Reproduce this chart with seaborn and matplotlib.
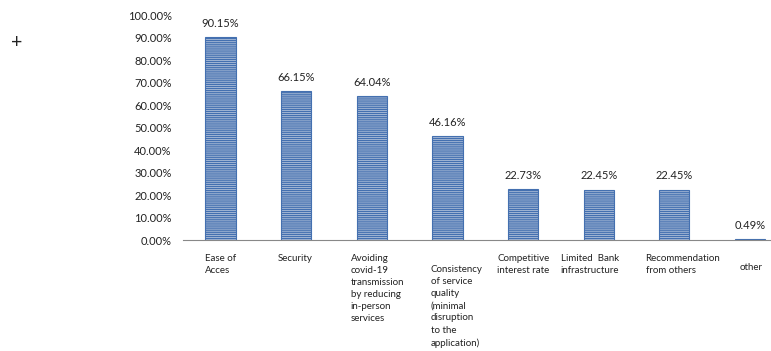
import matplotlib
matplotlib.use("Agg")
from matplotlib import pyplot as plt
from matplotlib.ticker import FuncFormatter
import seaborn as sns
import pandas as pd

categories = ["Ease of\nAcces", "Security",
              "Avoiding\ncovid-19\ntransmission\nby reducing\nin-person\nservices",
              "Consistency\nof service\nquality\n(minimal\ndisruption\nto the\napplication)",
              "Competitive\ninterest rate", "Limited  Bank\ninfrastructure",
              "Recommendation\nfrom others", "other"]
values = [90.15, 66.15, 64.04, 46.16, 22.73, 22.45, 22.45, 0.49]
value_labels = ["90.15%", "66.15%", "64.04%", "46.16%", "22.73%", "22.45%", "22.45%", "0.49%"]

df = pd.DataFrame({"cat": range(len(values)), "val": values})

sns.set_style("white")
plt.rcParams["font.family"] = ["Lato", "DejaVu Sans"]
plt.rcParams["hatch.linewidth"] = 0.9

fig = plt.figure(figsize=(7.71, 3.51), dpi=100)
ax = fig.add_axes([0.237, 0.316, 0.77, 0.641])

sns.barplot(data=df, x="cat", y="val", color="#a8bfe0", width=0.4,
            edgecolor="#4470b0", linewidth=0.8, hatch="--------", ax=ax)

ax.set_ylim(0, 100)
ax.set_yticks(range(0, 101, 10))
ax.yaxis.set_major_formatter(FuncFormatter(lambda v, p: "%.2f%%" % v))
ax.tick_params(axis="y", labelsize=8, length=0, pad=8, colors="#222222")
ax.set_xlim(-0.5, 7.35)
ax.set_xticks([])
ax.set_xlabel("")
ax.set_ylabel("")
for s in ["top", "right", "left"]:
    ax.spines[s].set_visible(False)
ax.spines["bottom"].set_color("#888888")
ax.spines["bottom"].set_linewidth(0.8)

for i, (v, t) in enumerate(zip(values, value_labels)):
    ax.annotate(t, (i, v), xytext=(0, 6), textcoords="offset points",
                ha="center", va="bottom", fontsize=8, color="#222222")

# category labels, left aligned under each bar
dx = [-0.2, -0.25, -0.28, -0.22, -0.34, -0.5, -0.38, -0.14]
dy = [-0.06, -0.06, -0.06, -0.11, -0.06, -0.06, -0.06, -0.1]
for i, lab in enumerate(categories):
    ax.text(i + dx[i], dy[i], lab, transform=ax.get_xaxis_transform(),
            ha="left", va="top", fontsize=7, linespacing=1.45, color="#222222")

fig.text(0.022, 0.88, "+", fontsize=14, ha="center", va="center", color="#222222")

fig.savefig("out.png", dpi=100)
